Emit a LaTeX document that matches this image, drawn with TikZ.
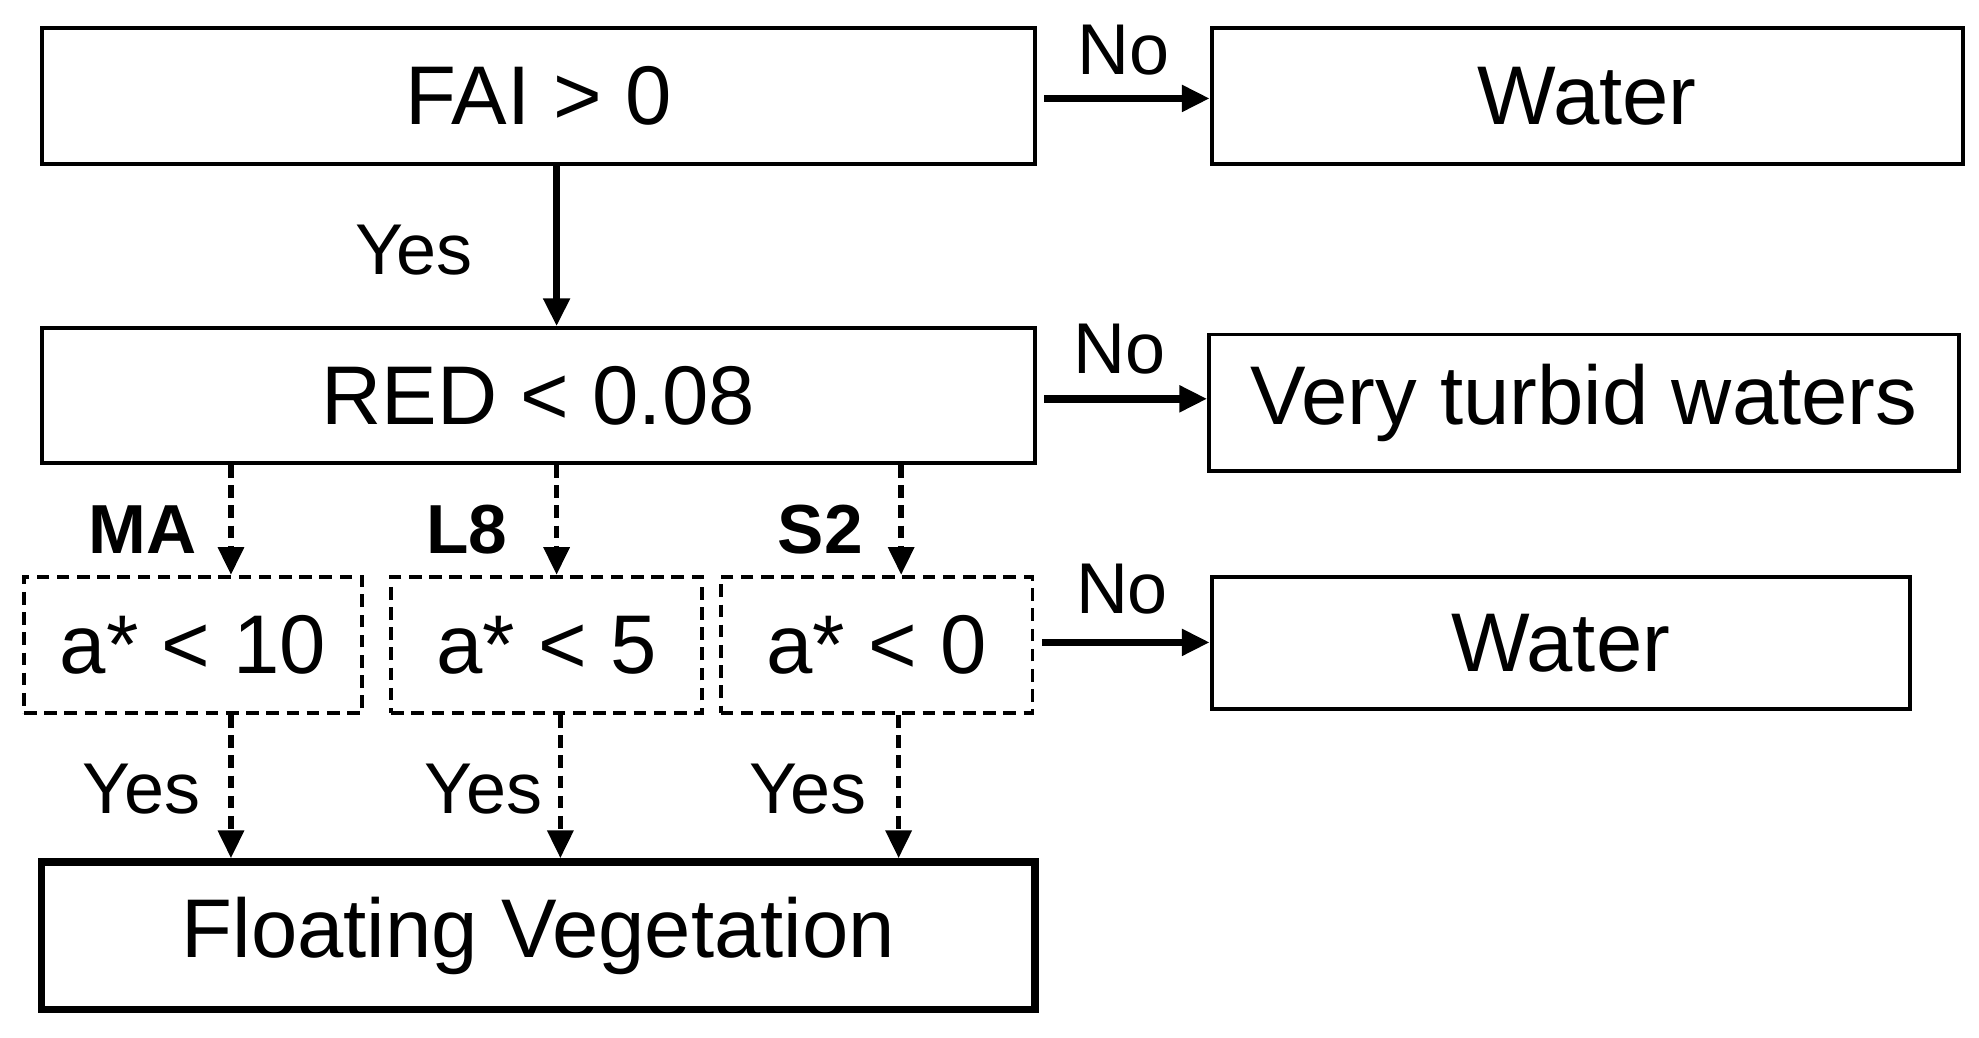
\documentclass[tikz,border=0pt]{standalone}
\usepackage{fontspec}
\setmainfont{Liberation Sans}
\usetikzlibrary{arrows.meta}
\begin{document}
\begin{tikzpicture}[x=0.5pt,y=-0.5pt,
 box/.style={draw,line width=1.5pt,inner sep=0,font=\fontsize{33}{38}\selectfont},
 dbox/.style={box,dash pattern=on 5pt off 3pt},
 arr/.style={line width=3pt,-{Triangle[length=11pt,width=10pt]}},
 darr/.style={arr,line width=2.2pt,dash pattern=on 5pt off 3pt},
 lab/.style={font=\fontsize{28.5}{32}\selectfont},
 blab/.style={font=\bfseries\fontsize{27.5}{32}\selectfont}]
\useasboundingbox (0,0) rectangle (1568,822);
\node[box,minimum width=393.5pt,minimum height=54pt] (fai) at (426.5,76) {FAI > 0};
\node[box,minimum width=297.5pt,minimum height=54pt] (w1) at (1257.5,76) {Water};
\node[box,minimum width=393.5pt,minimum height=53.5pt] (red) at (426.5,313.5) {RED < 0.08};
\node[box,minimum width=297pt,minimum height=54pt] (vt) at (1255,319) {Very turbid waters};
\node[dbox,minimum width=134pt,minimum height=54pt] (a1) at (153,511) {a* < 10};
\node[dbox,minimum width=123pt,minimum height=54pt] (a2) at (433,511) {a* < 5};
\node[dbox,minimum width=123.5pt,minimum height=54pt] (a3) at (694.5,511) {a* < 0};
\node[box,minimum width=276.5pt,minimum height=52.5pt] (w2) at (1236.5,509.5) {Water};
\node[box,line width=3pt,minimum width=393.5pt,minimum height=58.5pt] (fv) at (426.5,741.5) {Floating Vegetation};
\draw[arr] (fai.east|-0,78) ++(6,0) coordinate (s1) -- (s1-|w1.west);
\draw[arr] (fai.south-|441,0) -- (red.north-|441,0);
\draw[arr] (red.east|-0,316) ++(6,0) coordinate (s2) -- (s2-|vt.west);
\draw[arr] (a3.east|-0,509) ++(6,0) coordinate (s3) -- (s3-|w2.west);
\draw[darr] (red.south-|183,0) -- (a1.north-|183,0);
\draw[darr] (red.south-|441,0) -- (a2.north-|441,0);
\draw[darr] (red.south-|714,0) -- (a3.north-|714,0);
\draw[darr] (a1.south-|183,0) -- (fv.north-|183,0);
\draw[darr] (a2.south-|444,0) -- (fv.north-|444,0);
\draw[darr] (a3.south-|712,0) -- (fv.north-|712,0);
\node[lab] (n1) at (890,40) {No};
\node[lab] (n2) at (887,277) {No};
\node[lab] (n3) at (889,467) {No};
\node[lab] (y0) at (328,198) {Yes};
\node[lab] (y1) at (112,625) {Yes};
\node[lab] (y2) at (383,625) {Yes};
\node[lab] (y3) at (640,625) {Yes};
\node[blab] (ma) at (113,420) {MA};
\node[blab] (l8) at (370,420) {L8};
\node[blab] (s2) at (650,420) {S2};
\end{tikzpicture}
\end{document}
